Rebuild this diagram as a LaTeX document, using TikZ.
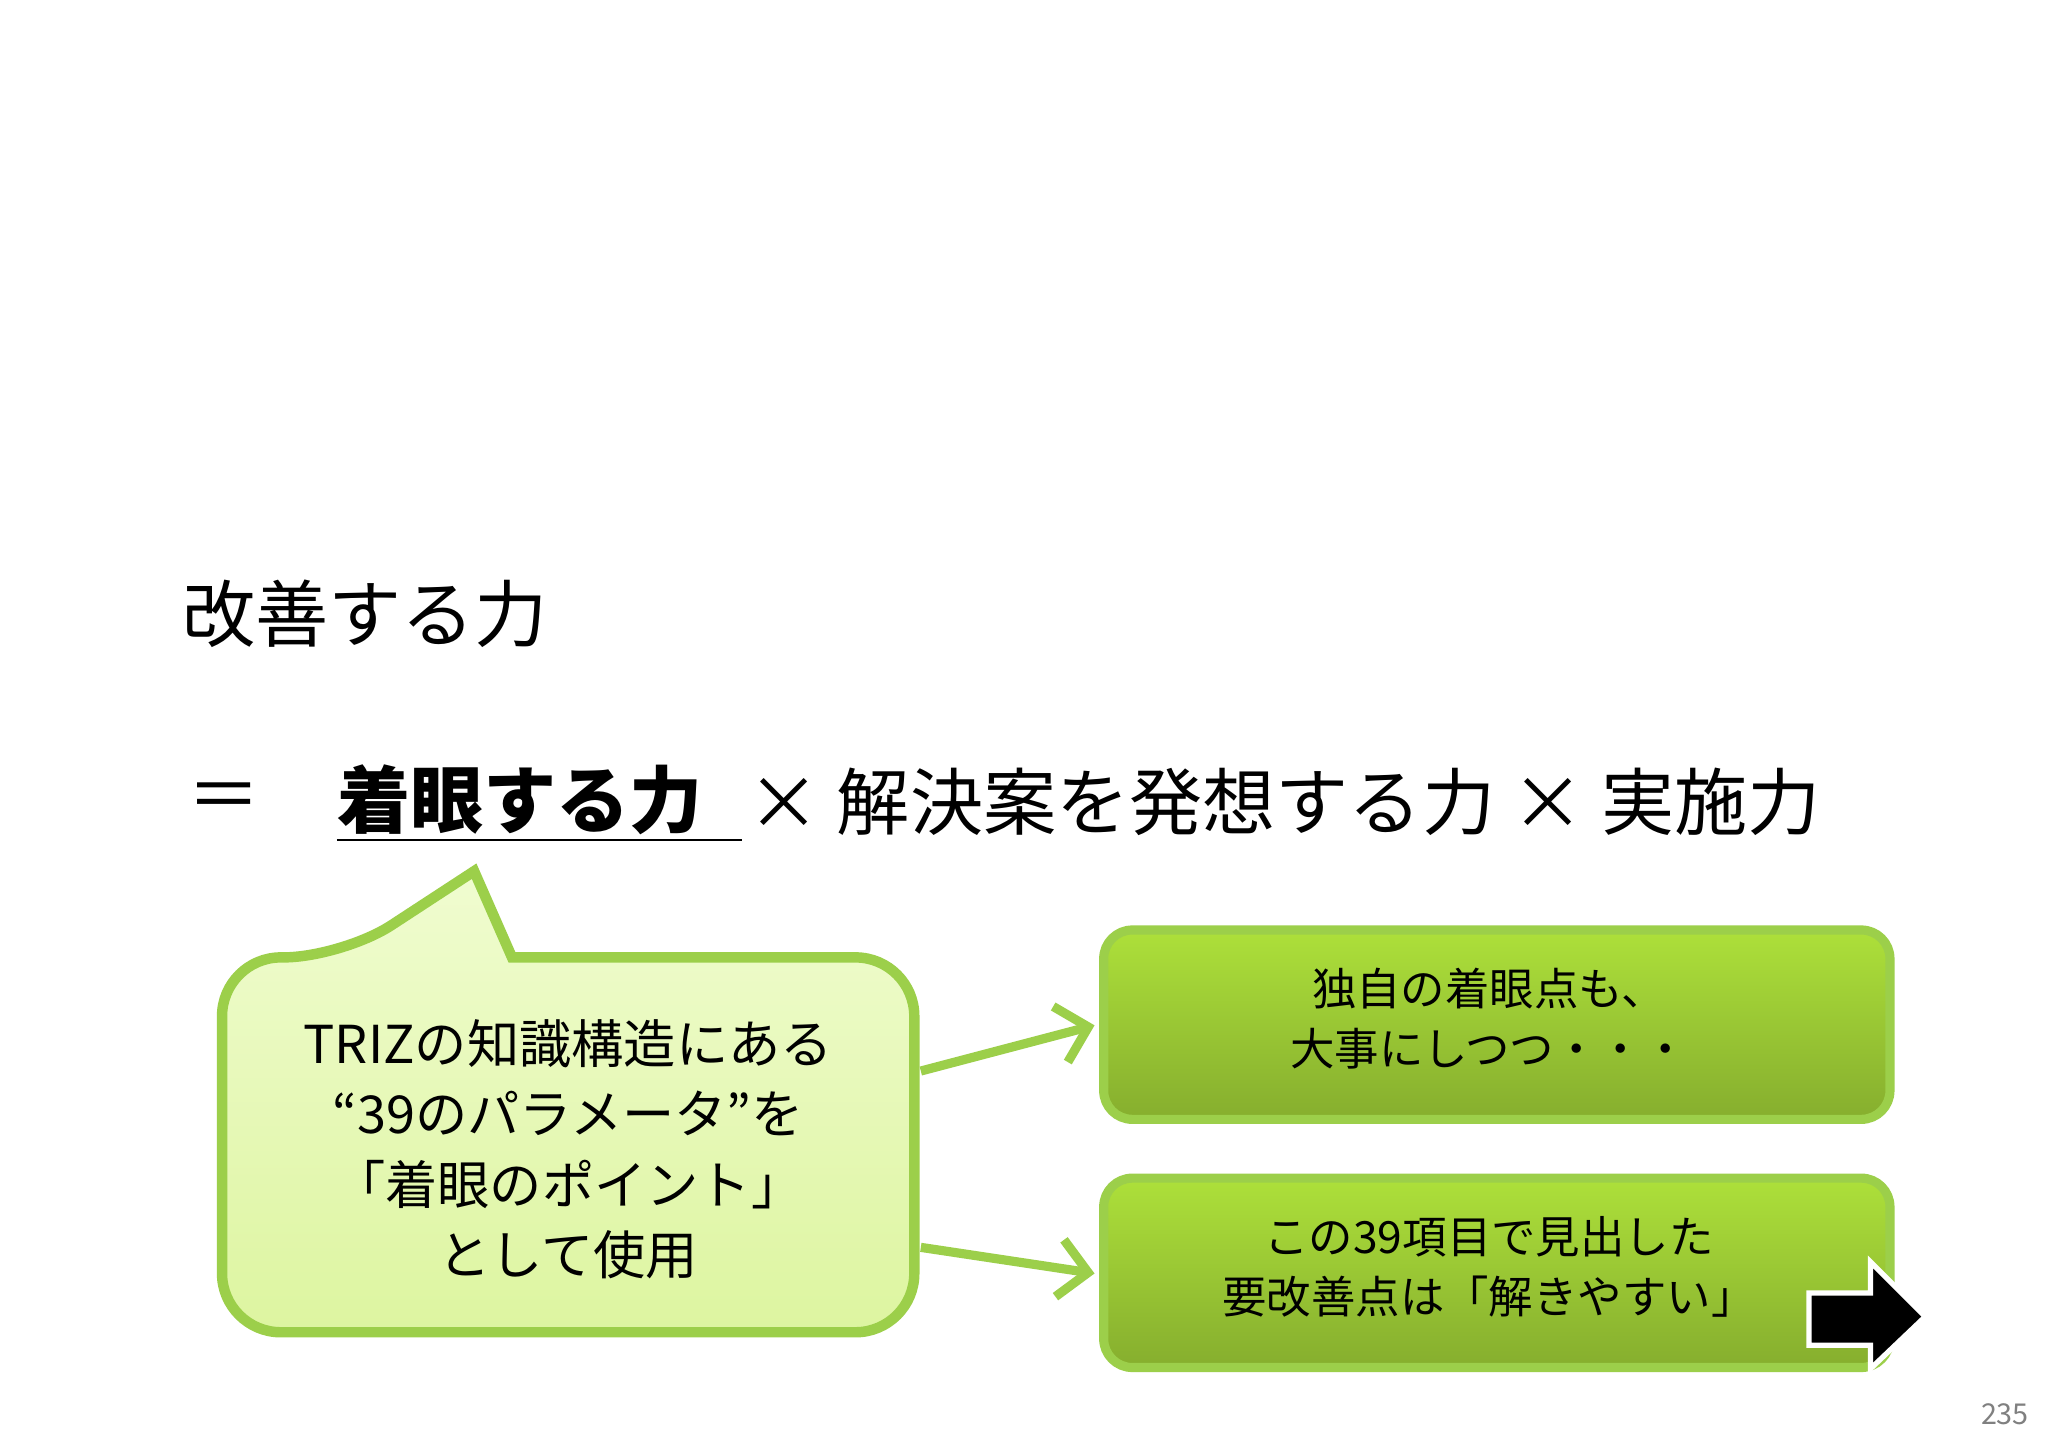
\documentclass[tikz,border=0pt]{standalone}
\usepackage{fontspec}
\setmainfont{Noto Sans CJK JP}
\newfontfamily\jpb[BoldFont={* Bold}]{Noto Sans CJK JP}
\usetikzlibrary{arrows.meta}
\definecolor{lg}{HTML}{9CCF4A}
\definecolor{gtop}{HTML}{ADE03A}
\definecolor{gbot}{HTML}{86AE2E}
\definecolor{ptop}{HTML}{F0FCD0}
\definecolor{pbot}{HTML}{DDF5A0}
\tikzset{
  gbox/.style={draw=lg,line width=7pt,rounded corners=22pt,top color=gtop,bottom color=gbot},
  conn/.style={draw=lg,line width=7pt,-{Straight Barb[length=22pt,width=44pt,line width=7pt]}},
  btxt/.style={align=center,font=\fontsize{34}{46}\selectfont},
}
\begin{document}
\begin{tikzpicture}[x=1pt,y=-1pt]
\useasboundingbox (0,0) rectangle (1568,1108);
\fill[white] (0,0) rectangle (1568,1108);
\node[anchor=west,font=\fontsize{56}{60}\selectfont] (t1) at (136,470) {改善する力};
\node[anchor=west,font=\fontsize{56}{60}\selectfont] (eq) at (140,614) {＝};
\node[anchor=west,font=\fontsize{56}{60}\selectfont\bfseries,inner sep=0pt] (foc) at (258,612) {着眼する力};
\draw[line width=2pt] (258,643) -- (568,643);
\node[anchor=west,font=\fontsize{56}{60}\selectfont,inner sep=0pt] (rest) at (572,614) {× 解決案を発想する力 × 実施力};
% bubble
\draw[draw=lg,line width=8pt,top color=ptop,bottom color=pbot,rounded corners=45pt]
  (170,733) -- (262,733) [rounded corners=0pt] -- (363,667) -- (392,733) [rounded corners=45pt] -- (700,733) -- (700,1020) -- (170,1020) -- cycle;
\node[btxt,font=\fontsize{40}{54}\selectfont] (bt) at (435,880) {TRIZの知識構造にある\\“39のパラメータ”を\\「着眼のポイント」\\として使用};
\coordinate (b1) at (705,820);
\coordinate (b2) at (705,955);
% boxes
\draw[gbox] (845,712) rectangle (1447,857);
\node[btxt] (x1) at (1140,780) {独自の着眼点も、\\大事にしつつ・・・};
\draw[gbox] (845,902) rectangle (1447,1047);
\node[btxt] (x2) at (1140,970) {この39項目で見出した\\要改善点は「解きやすい」};
\coordinate (a1) at (838,785);
\coordinate (a2) at (838,975);
\draw[conn] (b1) -- (a1);
\draw[conn] (b2) -- (a2);
% block arrow
\draw[fill=black,draw=white,line width=4pt] (1385,990) -- (1432,990) -- (1432,966) -- (1474,1008) -- (1432,1048) -- (1432,1030) -- (1385,1030) -- cycle;
\node[text=gray,font=\fontsize{22}{24}\selectfont] (pg) at (1535,1083) {235};
\end{tikzpicture}
\end{document}
